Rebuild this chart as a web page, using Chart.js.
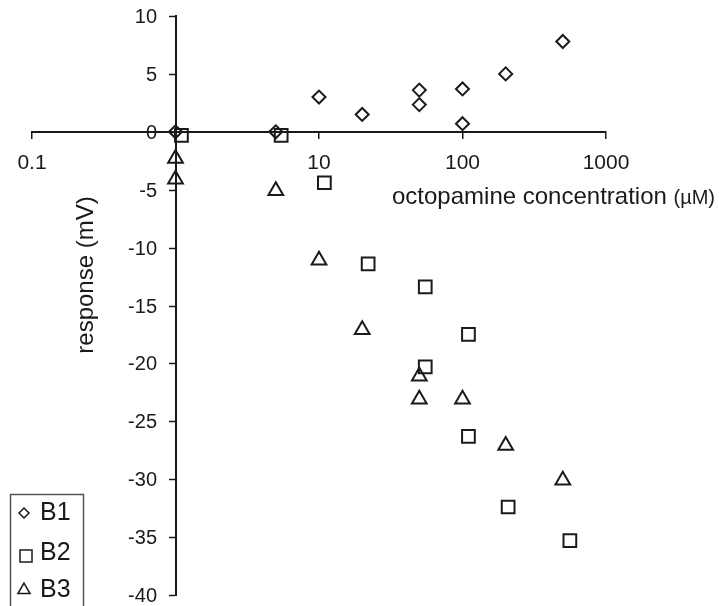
<!DOCTYPE html>
<html>
<head>
  <title>Octopamine response</title>
  <script src="https://cdn.jsdelivr.net/npm/chart.js"></script>
  <style>
    html, body { margin: 0; padding: 0; background: #fff; }
    #wrap { width: 719px; height: 606px; }
  </style>
</head>
<body>
  <div id="wrap"><canvas id="chart" width="719" height="606"></canvas></div>

  <script>
    // concentration (uM) and response (mV) for each cell
    const b1Conc = [1, 5, 10, 20, 50, 50, 100, 100, 200, 500];
    const b1Resp = [0, 0, 3.0, 1.5, 3.6, 2.35, 3.7, 0.7, 5.0, 7.8];
    const b2Conc = [1.1, 5.45, 10.9, 22, 55, 110, 55, 110, 208, 560];
    const b2Resp = [-0.3, -0.3, -4.4, -11.4, -13.4, -17.5, -20.3, -26.3, -32.4, -35.3];
    const b3Conc = [1, 1, 5, 10, 20, 50, 50, 100, 200, 500];
    const b3Resp = [-2.3, -4.1, -5.1, -11.1, -17.1, -21.1, -23.1, -23.1, -27.1, -30.1];
    const seriesNames = ["B1", "B2", "B3"];
    const xTicks = [0.1, 1, 10, 100, 1000];
    const yTicks = [10, 5, 0, -5, -10, -15, -20, -25, -30, -35, -40];

    const ink = "#1a1a1a";
    const font = "'Liberation Sans', Arial, sans-serif";

    function pts(xs, ys) {
      return xs.map((x, i) => ({ x: x, y: ys[i] }));
    }

    const styles = [
      { pointStyle: "rectRot", radius: 6.5 },
      { pointStyle: "rect", radius: 9 },
      { pointStyle: "triangle", radius: 8.5 }
    ];

    // y tick marks/labels (axis sits at x = 1), axis titles, boxed legend
    const extras = {
      id: "extras",
      afterDraw(chart) {
        const ctx = chart.ctx;
        const ys = chart.scales.y;
        const x0 = Math.round(chart.scales.x.getPixelForValue(1));
        ctx.save();
        ctx.strokeStyle = ink;
        ctx.fillStyle = ink;
        ctx.lineWidth = 1.5;
        ctx.font = "20px " + font;
        ctx.textAlign = "right";
        ctx.textBaseline = "middle";
        ys.ticks.forEach(t => {
          const y = Math.round(ys.getPixelForValue(t.value)) + 0.5;
          ctx.beginPath();
          ctx.moveTo(x0 - 1, y);
          ctx.lineTo(x0 - 7, y);
          ctx.stroke();
          ctx.fillText(String(t.value), x0 - 19, y + 1);
        });
        ctx.restore();

        ctx.save();
        ctx.fillStyle = ink;
        ctx.textBaseline = "alphabetic";
        ctx.textAlign = "left";
        ctx.font = "24px " + font;
        const main = "octopamine concentration ";
        ctx.fillText(main, 392, 204);
        const w = ctx.measureText(main).width;
        ctx.font = "20px " + font;
        ctx.fillText("(\u00b5M)", 392 + w, 204);

        ctx.translate(86, 275);
        ctx.rotate(-Math.PI / 2);
        ctx.textAlign = "center";
        ctx.textBaseline = "middle";
        ctx.font = "24px " + font;
        ctx.fillText("response (mV)", 0, 0);
        ctx.restore();

        // legend
        ctx.save();
        ctx.strokeStyle = "#555";
        ctx.lineWidth = 1.5;
        ctx.strokeRect(10.5, 494.5, 73, 120);
        const rows = [513, 553, 590];
        const legendR = [5, 8.5, 7];
        seriesNames.forEach((name, i) => {
          ctx.strokeStyle = ink;
          ctx.fillStyle = "rgba(0,0,0,0)";
          Chart.helpers.drawPoint(ctx, {
            pointStyle: styles[i].pointStyle,
            radius: legendR[i],
            rotation: 0,
            borderWidth: 2
          }, i === 1 ? 26 : 24, rows[i] + (i === 1 ? 3 : 0));
          ctx.fillStyle = ink;
          ctx.font = "25px " + font;
          ctx.textAlign = "left";
          ctx.textBaseline = "middle";
          ctx.fillText(name, 40, rows[i]);
        });
        ctx.restore();
      }
    };

    const datasets = [
      pts(b1Conc, b1Resp),
      pts(b2Conc, b2Resp),
      pts(b3Conc, b3Resp)
    ].map((d, i) => ({
      label: seriesNames[i],
      data: d,
      showLine: false,
      pointStyle: styles[i].pointStyle,
      pointRadius: styles[i].radius,
      pointHoverRadius: styles[i].radius,
      pointBorderWidth: 2,
      pointBorderColor: ink,
      pointBackgroundColor: "rgba(0,0,0,0)",
      clip: false
    }));

    const ctx = document.getElementById("chart").getContext("2d");
    new Chart(ctx, {
      type: "scatter",
      data: { datasets: datasets },
      plugins: [extras],
      options: {
        responsive: false,
        animation: false,
        layout: { padding: { left: 32, right: 113, top: 16, bottom: 9 } },
        plugins: {
          legend: { display: false },
          tooltip: { enabled: false }
        },
        scales: {
          x: {
            type: "logarithmic",
            min: 0.1,
            max: 1000,
            position: { y: 0 },
            afterBuildTicks: (scale) => {
              scale.ticks = xTicks.map(v => ({ value: v }));
            },
            ticks: {
              autoSkip: false,
              maxRotation: 0,
              padding: 13,
              color: ink,
              font: { family: font, size: 21 },
              callback: (v) => (v === 1 ? "" : String(v))
            },
            grid: { drawOnChartArea: false, drawTicks: true, tickLength: 6, color: ink, lineWidth: 1.5 },
            border: { display: true, color: ink, width: 2 }
          },
          y: {
            type: "linear",
            min: -40,
            max: 10,
            position: { x: 1 },
            afterBuildTicks: (scale) => {
              scale.ticks = yTicks.map(v => ({ value: v }));
            },
            ticks: { display: false },
            grid: { drawOnChartArea: false, drawTicks: false },
            border: { display: true, color: ink, width: 2 }
          }
        }
      }
    });
  </script>
</body>
</html>
